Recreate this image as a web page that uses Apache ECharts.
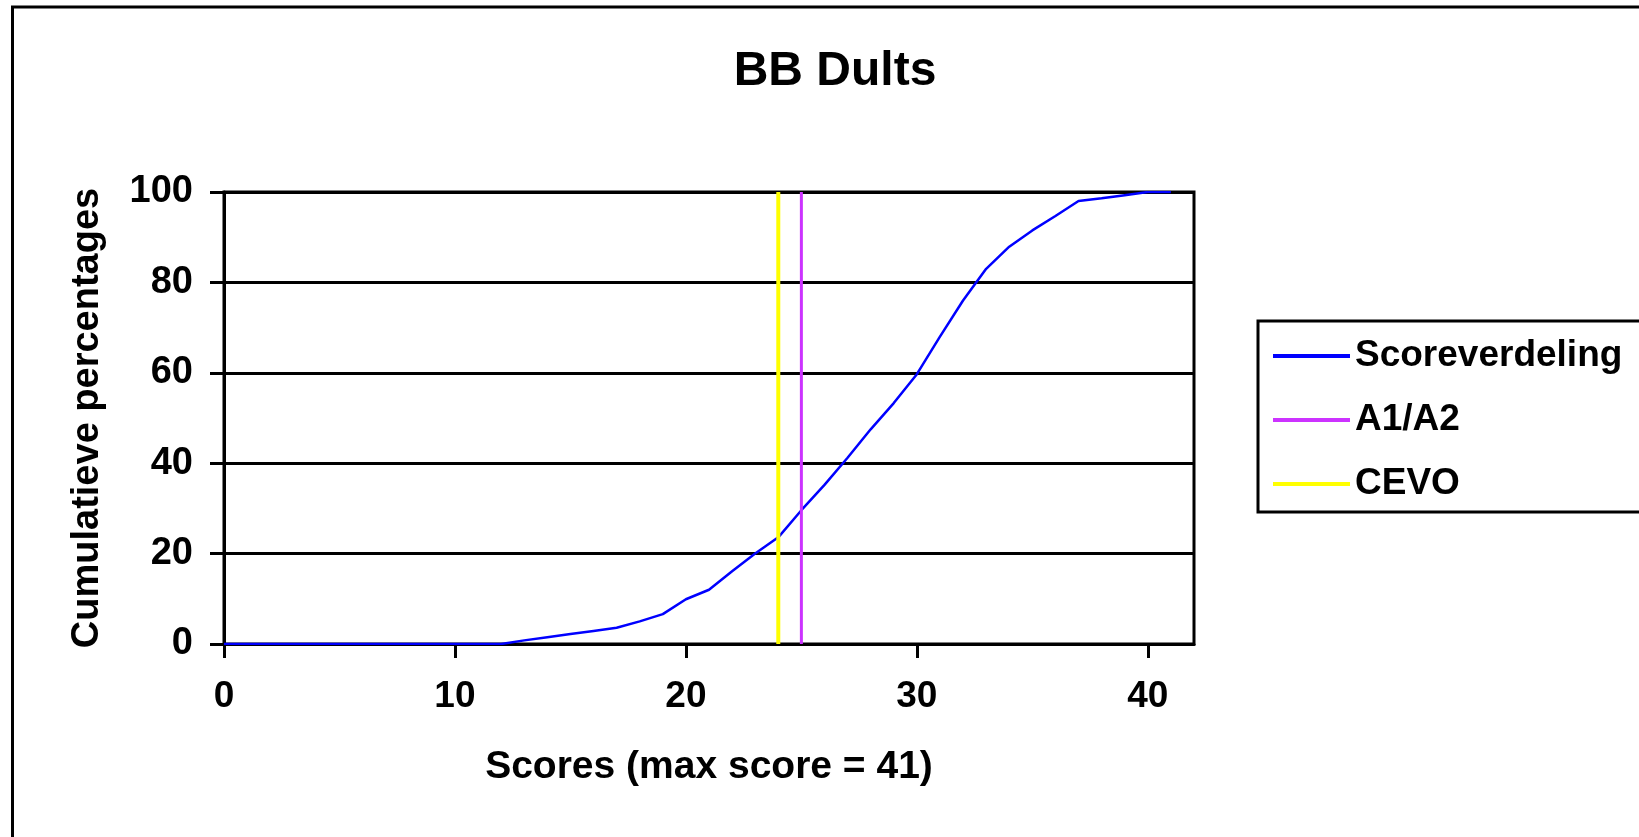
<!DOCTYPE html>
<html>
<head>
<meta charset="utf-8">
<title>BB Dults</title>
<script src="https://cdn.jsdelivr.net/npm/echarts@6/dist/echarts.min.js"></script>
<style>
  html, body { margin: 0; padding: 0; background: #fff; }
  #main { width: 1639px; height: 837px; }
</style>
</head>
<body>
<div id="main"></div>
<script>
// scores 0..41 en cumulatieve percentages
const scores = [0, 1, 2, 3, 4, 5, 6, 7, 8, 9, 10, 11, 12, 13, 14, 15, 16, 17, 18, 19, 20,
  21, 22, 23, 24, 25, 26, 27, 28, 29, 30, 31, 32, 33, 34, 35, 36, 37, 38, 39, 40, 41];
const cumPct = [0, 0, 0, 0, 0, 0, 0, 0, 0, 0, 0, 0, 0, 0.8, 1.5, 2.2, 2.9, 3.6, 5.0, 6.6, 9.9,
  12.0, 16.1, 20.0, 23.6, 29.6, 35.2, 41.2, 47.5, 53.3, 59.7, 68.0, 76.0, 83.0, 87.9, 91.5, 94.7,
  98.0, 98.6, 99.3, 100, 100];

// grensscores
const a1a2Score = 25;
const cevoScore = 24;

const xTicks = [0, 10, 20, 30, 40];
const yTicks = [0, 20, 40, 60, 80, 100];

const font = "'Liberation Sans', Arial, sans-serif";

const chart = echarts.init(document.getElementById("main"));

const option = {
  backgroundColor: "#fff",
  animation: false,
  title: {
    text: "BB Dults",
    left: 830,
    top: 43,
    textAlign: "center",
    textStyle: {
      color: "#000",
      fontFamily: font,
      fontWeight: "bold",
      fontSize: 48
    }
  },
  legend: {
    orient: "vertical",
    left: 1258,
    top: 321,
    padding: [15, 19, 8, 15],
    borderColor: "#000",
    borderWidth: 3,
    icon: "rect",
    itemWidth: 77,
    itemHeight: 4,
    itemGap: 24,
    itemStyle: { borderWidth: 0 },
    textStyle: {
      color: "#000",
      fontFamily: font,
      fontWeight: "bold",
      fontSize: 37,
      lineHeight: 40
    },
    data: ["Scoreverdeling", "A1/A2", "CEVO"]
  },
  grid: {
    left: 224,
    right: 445,
    top: 192,
    bottom: 193,
    show: true,
    borderColor: "#000",
    borderWidth: 3,
    backgroundColor: "transparent"
  },
  xAxis: {
    type: "value",
    min: 0,
    max: 42,
    name: "Scores (max score = 41)",
    nameLocation: "middle",
    nameGap: 104,
    nameTextStyle: {
      color: "#000",
      fontFamily: font,
      fontWeight: "bold",
      fontSize: 39
    },
    axisLine: { lineStyle: { color: "#000", width: 3 } },
    axisTick: { length: 14, lineStyle: { color: "#000", width: 3 }, customValues: xTicks },
    axisLabel: {
      customValues: xTicks,
      margin: 34,
      color: "#000",
      fontFamily: font,
      fontWeight: "bold",
      fontSize: 37
    },
    splitLine: { show: false }
  },
  yAxis: {
    type: "value",
    min: 0,
    max: 100,
    interval: 20,
    name: "Cumulatieve percentages",
    nameLocation: "middle",
    nameGap: 117,
    nameTextStyle: {
      color: "#000",
      fontFamily: font,
      fontWeight: "bold",
      fontSize: 38
    },
    axisLine: { show: true, lineStyle: { color: "#000", width: 3 } },
    axisTick: { show: true, length: 14, lineStyle: { color: "#000", width: 3 } },
    axisLabel: {
      margin: 31,
      color: "#000",
      fontFamily: font,
      fontWeight: "bold",
      fontSize: 38
    },
    splitLine: { show: true, lineStyle: { color: "#000", width: 3 } }
  },
  series: [
    {
      name: "Scoreverdeling",
      type: "line",
      symbol: "none",
      color: "#0000ff",
      lineStyle: { width: 2.5, color: "#0000ff" },
      data: scores.map((s, i) => [s, cumPct[i]])
    },
    {
      name: "A1/A2",
      type: "line",
      symbol: "none",
      color: "#cc33ff",
      lineStyle: { width: 3, color: "#cc33ff" },
      data: [[a1a2Score, yTicks[0]], [a1a2Score, yTicks[yTicks.length - 1]]]
    },
    {
      name: "CEVO",
      type: "line",
      symbol: "none",
      color: "#ffff00",
      lineStyle: { width: 4, color: "#ffff00" },
      data: [[cevoScore, yTicks[0]], [cevoScore, yTicks[yTicks.length - 1]]]
    }
  ],
  graphic: [
    {
      type: "rect",
      silent: true,
      z: -1,
      shape: { x: 12.5, y: 7, width: 1700, height: 900 },
      style: { fill: "none", stroke: "#000", lineWidth: 3 }
    }
  ]
};

chart.setOption(option);
</script>
</body>
</html>
